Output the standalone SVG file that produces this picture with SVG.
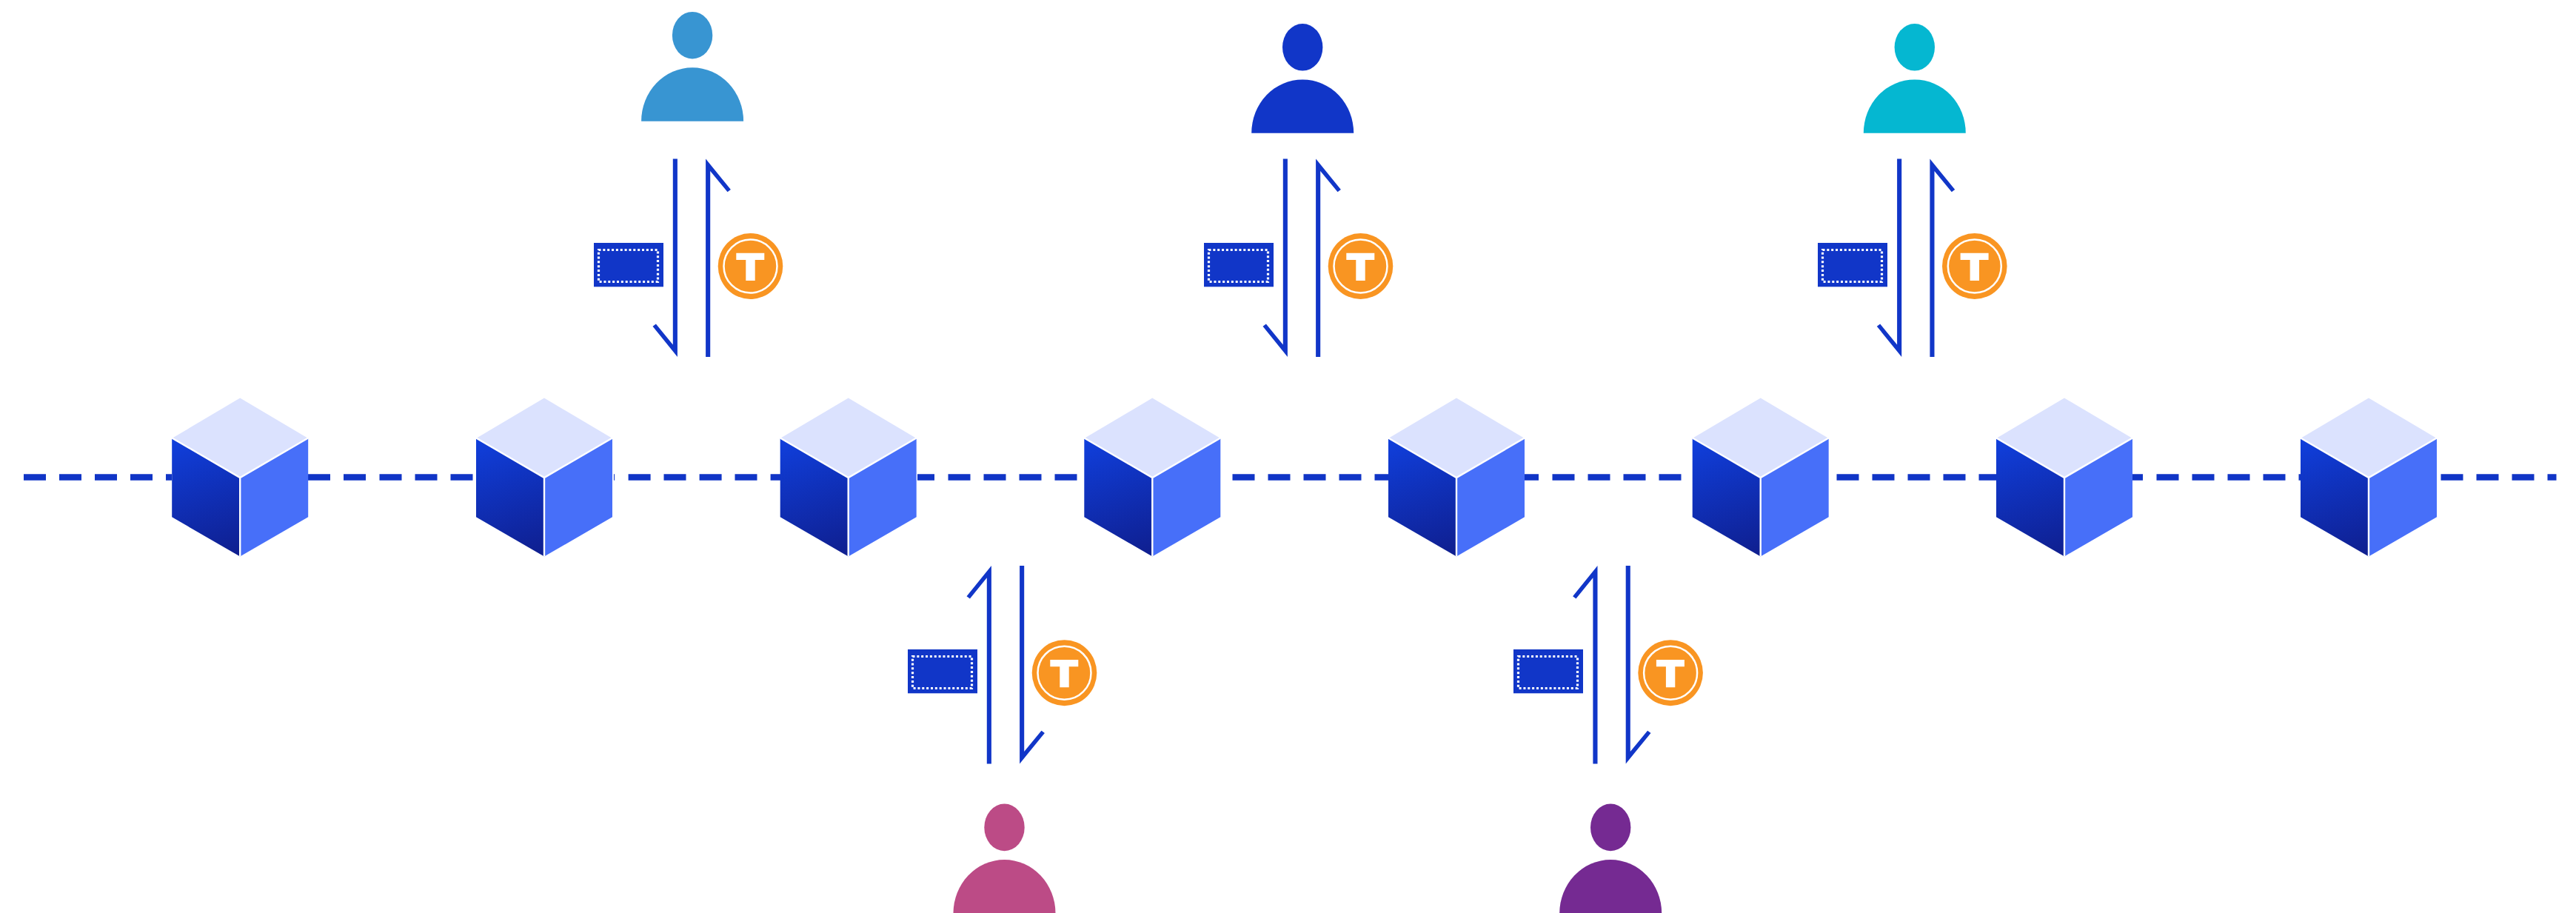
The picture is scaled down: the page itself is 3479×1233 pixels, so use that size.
<svg xmlns="http://www.w3.org/2000/svg" width="3479" height="1233" viewBox="0 0 3479 1233">
<style>
.chain{fill:none;stroke:#1035c6;stroke-width:8.6}
.arrow{fill:#1136c8}
.top{fill:#dbe2fe}
.left{fill:url(#faceGrad)}
.right{fill:#476ff9}
.edge{fill:none;stroke:#fff;stroke-width:2.4}
.note{fill:#1136c8}
.dots{fill:none;stroke:#fff;stroke-width:3.2;stroke-dasharray:3 2.85}
.coin{fill:#f99522}
.ring{fill:none;stroke:#fff;stroke-width:2.5}
.glyph{fill:#fff}
</style>
<defs>
<linearGradient id="faceGrad" gradientUnits="userSpaceOnUse" x1="-78" y1="-55" x2="-22" y2="108">
<stop offset="0" stop-color="#103fdc"/>
<stop offset="1" stop-color="#0f1f90"/>
</linearGradient>
<g id="cube">
<polygon class="top" points="0,-107.5 92,-53 0,0 -92,-53"/>
<polygon class="left" points="-92,-53 0,0 0,106.5 -92,53.3"/>
<polygon class="right" points="92,-53 0,0 0,106.5 92,53.3"/>
<path class="edge" d="M-92,-53.5 0,0 92,-53.5M0,0V106.5"/>
</g>
<g id="person">
<ellipse cx="0" cy="-116" rx="27.2" ry="31.8"/>
<path d="M-69,0A69,72.4 0 0 1 69,0Z"/>
</g>
<g id="arrowDown"><polygon class="arrow" points="908.8,214.5 914.9,214.5 914.9,482 881.5,440.7 885.9,437.5 908.8,465.6"/></g>
<g id="arrowUp"><polygon class="arrow" points="953.1,214.5 986.9,256 982.5,259.2 959.2,231 959.2,482 953.1,482"/></g>
<g id="note">
<rect class="note" x="802" y="328" width="94" height="59.3"/>
<rect class="dots" x="808.5" y="337.5" width="80" height="43"/>
</g>
<g id="token">
<ellipse class="coin" cx="1013.5" cy="359.5" rx="43.8" ry="44.5"/>
<circle class="ring" cx="1013.5" cy="359.5" r="36"/>
<path class="glyph" d="M994.3,341.7H1032.3V351H1019.7V379H1007.3V351H994.3Z"/>
</g>
</defs>

<g id="connectors">
<path id="chain" class="chain" d="M32,644.5H62M80,644.5H110M128,644.5H158M176,644.5H206M224,644.5H232M416,644.5H446M464,644.5H494M512.5,644.5H542.5M560.5,644.5H590.5M608.5,644.5H638.5M829,644.5H830M848.6,644.5H878.6M896.5,644.5H926.5M944.6,644.5H974.6M992.5,644.5H1022.5M1040.6,644.5H1054M1239,644.5H1262M1280.5,644.5H1310.5M1328.5,644.5H1358.5M1376.5,644.5H1406.5M1424.5,644.5H1454.5M1664.5,644.5H1694.5M1712.5,644.5H1742.5M1760.5,644.5H1790.5M1808.5,644.5H1838.5M1856.5,644.5H1875M2059,644.5H2078M2096.5,644.5H2126.5M2144.5,644.5H2174.5M2192.5,644.5H2222.5M2240.5,644.5H2270.5M2480.5,644.5H2510.5M2528.5,644.5H2558.5M2576.5,644.5H2606.5M2624.5,644.5H2654.5M2672.5,644.5H2696M2880,644.5H2894M2912.5,644.5H2942.5M2960.5,644.5H2990.5M3008.5,644.5H3038.5M3056.5,644.5H3086.5M3104.5,644.5H3107M3296.5,644.5H3326.5M3344.5,644.5H3374.5M3392.5,644.5H3422.5M3440.5,644.5H3452.5"/>
<g id="flow-user1">
<use href="#arrowDown"/><use href="#arrowUp"/>
</g>
<g id="flow-user2" transform="translate(824 0)">
<use href="#arrowDown"/><use href="#arrowUp"/>
</g>
<g id="flow-user3" transform="translate(1653.3 0)">
<use href="#arrowDown"/><use href="#arrowUp"/>
</g>
<g id="flow-user4" transform="translate(424 1245.9) scale(1 -1)">
<use href="#arrowDown"/><use href="#arrowUp"/>
</g>
<g id="flow-user5" transform="translate(1242.6 1245.9) scale(1 -1)">
<use href="#arrowDown"/><use href="#arrowUp"/>
</g>
</g>

<g id="block-1" transform="translate(324.2 645)"><use href="#cube"/></g>
<g id="block-2" transform="translate(735 645)"><use href="#cube"/></g>
<g id="block-3" transform="translate(1145.7 645)"><use href="#cube"/></g>
<g id="block-4" transform="translate(1556.3 645)"><use href="#cube"/></g>
<g id="block-5" transform="translate(1967 645)"><use href="#cube"/></g>
<g id="block-6" transform="translate(2377.7 645)"><use href="#cube"/></g>
<g id="block-7" transform="translate(2788 645)"><use href="#cube"/></g>
<g id="block-8" transform="translate(3199 645)"><use href="#cube"/></g>

<g id="user-1" fill="#3895d2" transform="translate(935.1 163.7)"><use href="#person"/></g>
<g id="user-2" fill="#1136c8" transform="translate(1759.2 179.8)"><use href="#person"/></g>
<g id="user-3" fill="#05b7d1" transform="translate(2585.8 179.8)"><use href="#person"/></g>
<g id="user-4" fill="#bc4b86" transform="translate(1356.5 1233.4)"><use href="#person"/></g>
<g id="user-5" fill="#752a92" transform="translate(2175.2 1233.4)"><use href="#person"/></g>

<g id="payment-1"><use href="#note"/></g>
<g id="payment-2" transform="translate(824 0)"><use href="#note"/></g>
<g id="payment-3" transform="translate(1653 0)"><use href="#note"/></g>
<g id="payment-4" transform="translate(424 549)"><use href="#note"/></g>
<g id="payment-5" transform="translate(1242 549)"><use href="#note"/></g>

<g id="token-1"><use href="#token"/></g>
<g id="token-2" transform="translate(824 0)"><use href="#token"/></g>
<g id="token-3" transform="translate(1653.3 0)"><use href="#token"/></g>
<g id="token-4" transform="translate(424 549.2)"><use href="#token"/></g>
<g id="token-5" transform="translate(1242.6 549.2)"><use href="#token"/></g>
</svg>
